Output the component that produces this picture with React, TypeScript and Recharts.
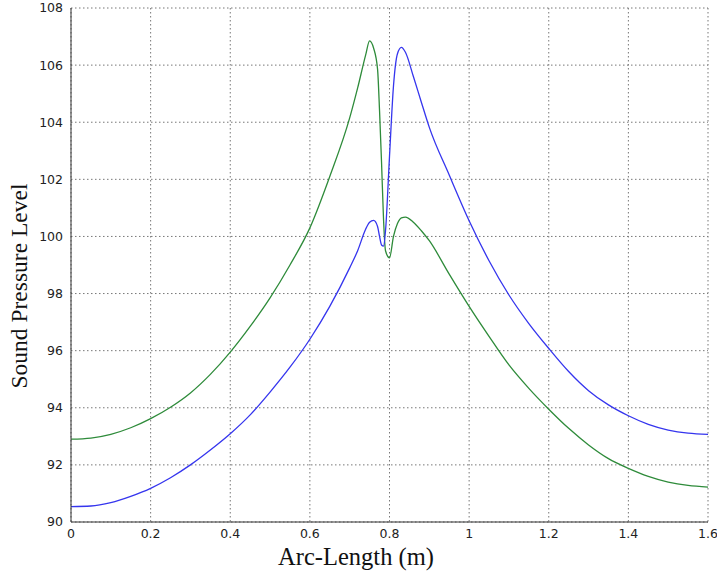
import { LineChart, Line, XAxis, YAxis, CartesianGrid, Label } from "recharts";

// arc length samples (m)
const arcLength = [
  0, 0.05, 0.1, 0.15, 0.2, 0.25, 0.3, 0.35, 0.4, 0.45, 0.5, 0.55, 0.6, 0.65,
  0.7, 0.72, 0.74, 0.75, 0.76, 0.77, 0.775, 0.78, 0.785, 0.79, 0.8, 0.81, 0.82,
  0.83, 0.84, 0.86, 0.88, 0.9, 0.95, 1.0, 1.05, 1.1, 1.15, 1.2, 1.25, 1.3,
  1.35, 1.4, 1.45, 1.5, 1.55, 1.6,
];

const greenSpl = [
  92.9, 92.94, 93.07, 93.3, 93.62, 94.02, 94.52, 95.17, 95.95, 96.85, 97.85,
  99.0, 100.3, 102.1, 104.15, 105.2, 106.35, 106.85, 106.6, 105.86, 104.4,
  102.6, 100.6, 99.5, 99.25, 100.0, 100.45, 100.65, 100.68, 100.5, 100.2,
  99.85, 98.68, 97.55, 96.5, 95.5, 94.68, 93.95, 93.28, 92.7, 92.22, 91.88,
  91.6, 91.4, 91.28, 91.22,
];

const blueSpl = [
  90.54, 90.56, 90.68, 90.9, 91.18, 91.55, 92.0, 92.52, 93.09, 93.75, 94.55,
  95.42, 96.4, 97.55, 98.9, 99.5, 100.25, 100.5, 100.56, 100.35, 100.0, 99.7,
  99.66, 100.2, 102.8, 105.27, 106.4, 106.62, 106.45, 105.6, 104.7, 103.82,
  102.15, 100.55, 99.15, 97.95, 96.95, 96.08, 95.27, 94.6, 94.1, 93.72, 93.42,
  93.22, 93.11, 93.07,
];

const xTicks = [0, 0.2, 0.4, 0.6, 0.8, 1, 1.2, 1.4, 1.6];
const yTicks = [90, 92, 94, 96, 98, 100, 102, 104, 106, 108];

const data = arcLength.map((x, i) => ({
  x,
  green: greenSpl[i],
  blue: blueSpl[i],
}));

const tickStyle = {
  fontFamily: "DejaVu Sans, sans-serif",
  fontSize: 12.5,
  fill: "#222",
};

const serif = "Liberation Serif, Times New Roman, serif";

export default function App() {
  return (
    <div style={{ position: "absolute", left: 0, top: 0, background: "#fff" }}>
      <LineChart
        width={717}
        height={573}
        data={data}
        margin={{ top: 8, right: 9, bottom: 0, left: 0 }}
      >
        <CartesianGrid stroke="#777" strokeDasharray="1.5 2.5" />
        <XAxis
          xAxisId="top"
          orientation="top"
          dataKey="x"
          type="number"
          domain={[0, 1.6]}
          ticks={xTicks}
          tick={false}
          tickLine={false}
          height={0}
          axisLine={{ stroke: "#333" }}
        />
        <YAxis
          yAxisId="right"
          orientation="right"
          type="number"
          domain={[90, 108]}
          ticks={yTicks}
          tick={false}
          tickLine={false}
          width={0}
          axisLine={{ stroke: "#333" }}
        />
        <XAxis
          dataKey="x"
          type="number"
          domain={[0, 1.6]}
          ticks={xTicks}
          tick={tickStyle}
          tickLine={false}
          tickSize={0}
          tickMargin={7}
          height={51}
          axisLine={{ stroke: "#333" }}
        >
          <Label
            content={() => (
              <text
                x={356}
                y={565}
                textAnchor="middle"
                fontFamily={serif}
                fontSize={24.5}
                fill="#111"
              >
                Arc-Length (m)
              </text>
            )}
          />
        </XAxis>
        <YAxis
          type="number"
          domain={[90, 108]}
          ticks={yTicks}
          tick={tickStyle}
          tickLine={false}
          tickSize={0}
          tickMargin={8}
          width={71}
          axisLine={{ stroke: "#333" }}
        >
          <Label
            content={() => (
              <text
                x={27}
                y={286}
                transform="rotate(-90 27 286)"
                textAnchor="middle"
                fontFamily={serif}
                fontSize={23.5}
                fill="#111"
              >
                Sound Pressure Level
              </text>
            )}
          />
        </YAxis>
        <Line
          type="monotone"
          dataKey="green"
          stroke="#2e8b3a"
          strokeWidth={1.3}
          dot={false}
          isAnimationActive={false}
        />
        <Line
          type="monotone"
          dataKey="blue"
          stroke="#3535ee"
          strokeWidth={1.3}
          dot={false}
          isAnimationActive={false}
        />
      </LineChart>
    </div>
  );
}
